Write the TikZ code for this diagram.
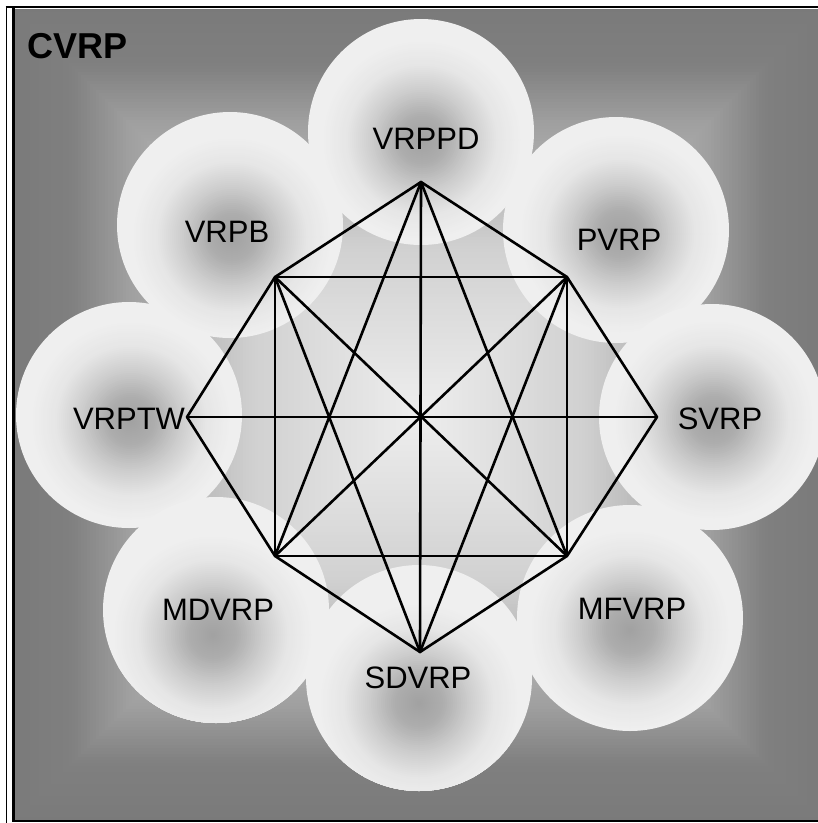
\documentclass[tikz,border=0pt]{standalone}
\usepackage{fontspec}
\setmainfont{Liberation Sans}
\definecolor{circ}{gray}{0.937}
\tikzset{
  blob/.style={circle, minimum size=226pt, inner sep=0pt, fill=circ},
  lab/.style={anchor=base, font=\fontsize{31}{31}\selectfont},
  edge/.style={line width=2.6pt, line cap=round, black},
  frameline/.style={black}
}
\begin{document}
\begin{tikzpicture}[x=1pt,y=-1pt]
\useasboundingbox (0,0) rectangle (818,823);
\fill[white] (0,0) rectangle (818,823);
\begin{scope}
\clip (0,0) rectangle (818,823);
% background: rectangular (pyramid) gradient
\foreach \d in {0,3,...,402} {
  \pgfmathsetmacro\g{\d<55 ? 0.48+0.02*\d/55 : (\d<110 ? 0.50+0.12*(\d-55)/55 : (\d<240 ? 0.62+0.20*(\d-110)/130 : 0.82+0.11*(\d-240)/162))}
  \definecolor{bgc}{gray}{\g}
  \fill[bgc] ({15+\d},{8.5+\d}) rectangle ({822-\d},{819.5-\d});
}
% circles
\foreach \n/\cx/\cy/\dx/\dy in {
  VRPPD/421/132/1/8,
  PVRP/616/230/4/4,
  SVRP/712/417/2/3,
  VRPTW/129/415/2/6,
  VRPB/230/225/2/12,
  MDVRP/216/610/-3/25,
  MFVRP/630/618/0/12,
  SDVRP/419/678/0/25} {
  \node[blob] (c\n) at (\cx,\cy) {};
  \begin{scope}
    \clip (c\n.center) circle (113);
    \foreach \r in {100,98,...,2} {
      \pgfmathsetmacro\g{\r<25 ? 0.63+0.05*\r/25 : (\r<50 ? 0.68+0.12*(\r-25)/25 : (\r<75 ? 0.80+0.10*(\r-50)/25 : 0.90+0.037*(\r-75)/25))}
      \definecolor{spc}{gray}{\g}
      \fill[spc] ([shift={(\dx,\dy)}]c\n.center) circle (\r);
    }
  \end{scope}
}
% frame
\draw[frameline, line width=1.5pt] (6.7,6) -- (6.7,823);
\draw[frameline, line width=2.7pt] (5.5,7) -- (830,7);
\draw[frameline, line width=2.7pt] (13.6,7) -- (13.6,821) -- (830,821);
\end{scope}
% labels
\node[anchor=base west, font=\bfseries\fontsize{36}{36}\selectfont] (cvrp) at (24,58) {CVRP};
\node[lab] (tVRPPD) at (426,149) {VRPPD};
\node[lab] (tPVRP) at (619,250) {PVRP};
\node[lab] (tSVRP) at (720,429) {SVRP};
\node[lab] (tMFVRP) at (632,619) {MFVRP};
\node[lab] (tSDVRP) at (418,688) {SDVRP};
\node[lab] (tMDVRP) at (218,620) {MDVRP};
\node[lab] (tVRPTW) at (129,429) {VRPTW};
\node[lab] (tVRPB) at (227,242) {VRPB};
% octagon vertices
\coordinate (T) at (421,182);
\coordinate (UR) at (567,277);
\coordinate (R) at (657,417);
\coordinate (LR) at (567,556);
\coordinate (B) at (420,652);
\coordinate (LL) at (275,556);
\coordinate (L) at (187,417);
\coordinate (UL) at (275,277);
% edges
\foreach \a/\b in {T/UR, UR/R, R/LR, LR/B, B/LL, LL/L, L/UL, UL/T,
                   UL/UR, UR/LR, LR/LL, LL/UL,
                   UL/LR, UR/LL, T/B, L/R,
                   UL/B, UR/B, T/LL, T/LR} {
  \draw[edge] (\a) -- (\b);
}
\end{tikzpicture}
\end{document}
